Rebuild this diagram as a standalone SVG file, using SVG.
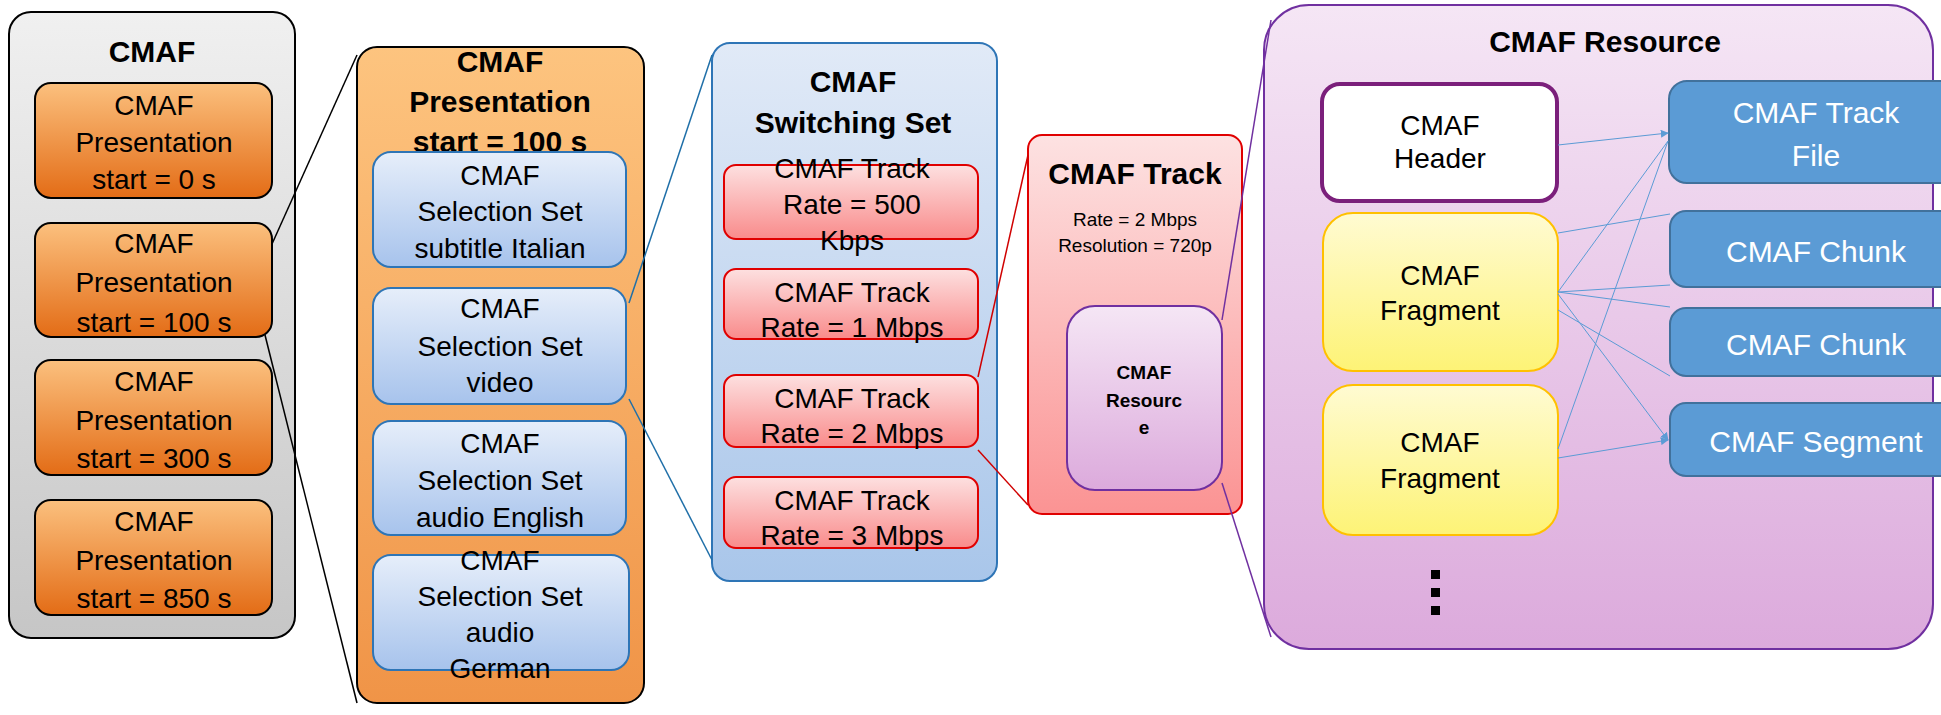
<svg xmlns="http://www.w3.org/2000/svg" width="1941" height="715" viewBox="0 0 1941 715">
<defs>
<linearGradient id="gGray" x1="0" y1="0" x2="0" y2="1"><stop offset="0" stop-color="#f0f0f0"/><stop offset="1" stop-color="#c6c6c6"/></linearGradient>
<linearGradient id="gOr" x1="0" y1="0" x2="0" y2="1"><stop offset="0" stop-color="#fbc07e"/><stop offset="1" stop-color="#e36c16"/></linearGradient>
<linearGradient id="gOrBig" x1="0" y1="0" x2="0" y2="1"><stop offset="0" stop-color="#fdc47f"/><stop offset="1" stop-color="#f09447"/></linearGradient>
<linearGradient id="gBl" x1="0" y1="0" x2="0" y2="1"><stop offset="0" stop-color="#e6eefa"/><stop offset="1" stop-color="#a7c3ec"/></linearGradient>
<linearGradient id="gSw" x1="0" y1="0" x2="0" y2="1"><stop offset="0" stop-color="#e1eaf7"/><stop offset="1" stop-color="#a9c6ea"/></linearGradient>
<linearGradient id="gRed" x1="0" y1="0" x2="0" y2="1"><stop offset="0" stop-color="#fde0e0"/><stop offset="1" stop-color="#f98b8b"/></linearGradient>
<linearGradient id="gTr" x1="0" y1="0" x2="0" y2="1"><stop offset="0" stop-color="#fde2e2"/><stop offset="1" stop-color="#fb9393"/></linearGradient>
<linearGradient id="gPu" x1="0" y1="0" x2="0" y2="1"><stop offset="0" stop-color="#f5e6f5"/><stop offset="1" stop-color="#dcaadc"/></linearGradient>
<linearGradient id="gYe" x1="0" y1="0" x2="0" y2="1"><stop offset="0" stop-color="#fffbd2"/><stop offset="1" stop-color="#fdf376"/></linearGradient>
<marker id="ah" viewBox="0 0 10 10" refX="9" refY="5" markerWidth="8" markerHeight="8" orient="auto"><path d="M0,0 L10,5 L0,10 z" fill="#5b9bd5"/></marker>
</defs>
<style>
text{font-family:"Liberation Sans",Arial,sans-serif;text-anchor:middle;fill:#000}
.b{font-weight:bold}
.t32{font-size:30px}
.t28{font-size:28px}
.w{fill:#fff}
.or{fill:url(#gOr);stroke:#000;stroke-width:2}
.bl{fill:url(#gBl);stroke:#2e75b6;stroke-width:2}
.rd{fill:url(#gRed);stroke:#e00000;stroke-width:2}
.rb{fill:#5b9bd5;stroke:#41719c;stroke-width:2}
.ye{fill:url(#gYe);stroke:#ffc000;stroke-width:2}
.ar{stroke:#5b9bd5;stroke-width:1;fill:none}
</style>

<g id="cmaf">
<rect x="9" y="12" width="286" height="626" rx="22" fill="url(#gGray)" stroke="#000" stroke-width="2"/>
<text x="152" y="62" class="b t32">CMAF</text>
</g>
<g id="pres0"><rect x="35" y="83" width="237" height="115" rx="16" class="or"/>
<text x="154" y="115" class="t28">CMAF</text><text x="154" y="152" class="t28">Presentation</text><text x="154" y="189" class="t28">start = 0 s</text></g>
<g id="pres100"><rect x="35" y="223" width="237" height="114" rx="16" class="or"/>
<text x="154" y="253" class="t28">CMAF</text><text x="154" y="292" class="t28">Presentation</text><text x="154" y="332" class="t28">start = 100 s</text></g>
<g id="pres300"><rect x="35" y="360" width="237" height="115" rx="16" class="or"/>
<text x="154" y="391" class="t28">CMAF</text><text x="154" y="430" class="t28">Presentation</text><text x="154" y="468" class="t28">start = 300 s</text></g>
<g id="pres850"><rect x="35" y="500" width="237" height="115" rx="16" class="or"/>
<text x="154" y="531" class="t28">CMAF</text><text x="154" y="570" class="t28">Presentation</text><text x="154" y="608" class="t28">start = 850 s</text></g>

<g id="presentation">
<rect x="357" y="47" width="287" height="656" rx="20" fill="url(#gOrBig)" stroke="#000" stroke-width="2"/>
<text x="500" y="72" class="b t32">CMAF</text><text x="500" y="112" class="b t32">Presentation</text><text x="500" y="152" class="b t32">start = 100 s</text>
</g>
<g id="sel1"><rect x="373" y="152" width="253" height="115" rx="18" class="bl"/>
<text x="500" y="185" class="t28">CMAF</text><text x="500" y="221" class="t28">Selection Set</text><text x="500" y="258" class="t28">subtitle Italian</text></g>
<g id="sel2"><rect x="373" y="288" width="253" height="116" rx="18" class="bl"/>
<text x="500" y="318" class="t28">CMAF</text><text x="500" y="356" class="t28">Selection Set</text><text x="500" y="392" class="t28">video</text></g>
<g id="sel3"><rect x="373" y="421" width="253" height="114" rx="18" class="bl"/>
<text x="500" y="453" class="t28">CMAF</text><text x="500" y="490" class="t28">Selection Set</text><text x="500" y="527" class="t28">audio English</text></g>
<g id="sel4"><rect x="373" y="555" width="256" height="115" rx="18" class="bl"/>
<text x="500" y="570" class="t28">CMAF</text><text x="500" y="606" class="t28">Selection Set</text><text x="500" y="642" class="t28">audio</text><text x="500" y="678" class="t28">German</text></g>

<g id="switching">
<rect x="712" y="43" width="285" height="538" rx="18" fill="url(#gSw)" stroke="#2e75b6" stroke-width="2"/>
<text x="853" y="92" class="b t32">CMAF</text><text x="853" y="133" class="b t32">Switching Set</text>
</g>
<g id="tr500"><rect x="724" y="165" width="254" height="74" rx="12" class="rd"/>
<text x="852" y="178" class="t28">CMAF Track</text><text x="852" y="214" class="t28">Rate = 500</text><text x="852" y="250" class="t28">Kbps</text></g>
<g id="tr1"><rect x="724" y="269" width="254" height="70" rx="12" class="rd"/>
<text x="852" y="302" class="t28">CMAF Track</text><text x="852" y="337" class="t28">Rate = 1 Mbps</text></g>
<g id="tr2"><rect x="724" y="375" width="254" height="72" rx="12" class="rd"/>
<text x="852" y="408" class="t28">CMAF Track</text><text x="852" y="443" class="t28">Rate = 2 Mbps</text></g>
<g id="tr3"><rect x="724" y="477" width="254" height="71" rx="12" class="rd"/>
<text x="852" y="510" class="t28">CMAF Track</text><text x="852" y="545" class="t28">Rate = 3 Mbps</text></g>

<g id="track">
<rect x="1028" y="135" width="214" height="379" rx="14" fill="url(#gTr)" stroke="#e00000" stroke-width="2"/>
<text x="1135" y="184" class="b t32">CMAF Track</text>
<text x="1135" y="226" style="font-size:19px">Rate = 2 Mbps</text>
<text x="1135" y="252" style="font-size:19px">Resolution = 720p</text>
</g>
<g id="resSmall"><rect x="1067" y="306" width="155" height="184" rx="28" fill="url(#gPu)" stroke="#7030a0" stroke-width="2"/>
<text x="1144" y="379" class="b" style="font-size:19px">CMAF</text><text x="1144" y="407" class="b" style="font-size:19px">Resourc</text><text x="1144" y="434" class="b" style="font-size:19px">e</text></g>

<g id="resource">
<rect x="1264" y="5" width="669" height="644" rx="45" fill="url(#gPu)" stroke="#7030a0" stroke-width="2"/>
<text x="1605" y="52" class="b t32">CMAF Resource</text>
</g>
<g id="header"><rect x="1322" y="84" width="235" height="117" rx="18" fill="#fff" stroke="#7b1f7b" stroke-width="4"/>
<text x="1440" y="135" class="t28">CMAF</text><text x="1440" y="168" class="t28">Header</text></g>
<g id="frag1"><rect x="1323" y="213" width="235" height="158" rx="30" class="ye"/>
<text x="1440" y="285" class="t28">CMAF</text><text x="1440" y="320" class="t28">Fragment</text></g>
<g id="frag2"><rect x="1323" y="385" width="235" height="150" rx="30" class="ye"/>
<text x="1440" y="452" class="t28">CMAF</text><text x="1440" y="488" class="t28">Fragment</text></g>
<g id="trackfile"><rect x="1670" y="81" width="295" height="102" rx="18" class="rb" transform="translate(-1,0)"/>
<text x="1816" y="123" class="t32 w">CMAF Track</text><text x="1816" y="166" class="t32 w">File</text></g>
<g id="chunk1"><rect x="1670" y="211" width="295" height="76" rx="16" class="rb"/>
<text x="1816" y="262" class="t32 w">CMAF Chunk</text></g>
<g id="chunk2"><rect x="1670" y="308" width="295" height="68" rx="16" class="rb"/>
<text x="1816" y="355" class="t32 w">CMAF Chunk</text></g>
<g id="segment"><rect x="1670" y="403" width="295" height="73" rx="16" class="rb"/>
<text x="1816" y="452" class="t32 w">CMAF Segment</text></g>
<g id="dots" fill="#000"><rect x="1431" y="570" width="9" height="9"/><rect x="1431" y="588" width="9" height="9"/><rect x="1431" y="606" width="9" height="9"/></g>

<g id="connectors">
<line x1="272" y1="244" x2="357" y2="55" stroke="#000" stroke-width="1.5"/>
<line x1="265" y1="335" x2="357" y2="703" stroke="#000" stroke-width="1.5"/>
<line x1="629" y1="303" x2="712" y2="55" stroke="#1f6fa8" stroke-width="1.5"/>
<line x1="629" y1="399" x2="712" y2="560" stroke="#1f6fa8" stroke-width="1.5"/>
<line x1="978" y1="377" x2="1028" y2="155" stroke="#d00000" stroke-width="1.5"/>
<line x1="978" y1="450" x2="1028" y2="505" stroke="#d00000" stroke-width="1.5"/>
<line x1="1222" y1="320" x2="1271" y2="20" stroke="#7030a0" stroke-width="1.5"/>
<line x1="1222" y1="483" x2="1271" y2="637" stroke="#7030a0" stroke-width="1.5"/>
<line x1="1558" y1="145" x2="1668" y2="133" class="ar" marker-end="url(#ah)"/>
<line x1="1558" y1="233" x2="1670" y2="214" class="ar"/>
<line x1="1558" y1="292" x2="1670" y2="285" class="ar"/>
<line x1="1558" y1="292" x2="1670" y2="307" class="ar"/>
<line x1="1558" y1="310" x2="1670" y2="376" class="ar"/>
<line x1="1558" y1="292" x2="1668" y2="141" class="ar"/>
<line x1="1558" y1="294" x2="1668" y2="440" class="ar" marker-end="url(#ah)"/>
<line x1="1558" y1="458" x2="1668" y2="440" class="ar" marker-end="url(#ah)"/>
<line x1="1558" y1="449" x2="1668" y2="141" class="ar"/>
</g>
</svg>
